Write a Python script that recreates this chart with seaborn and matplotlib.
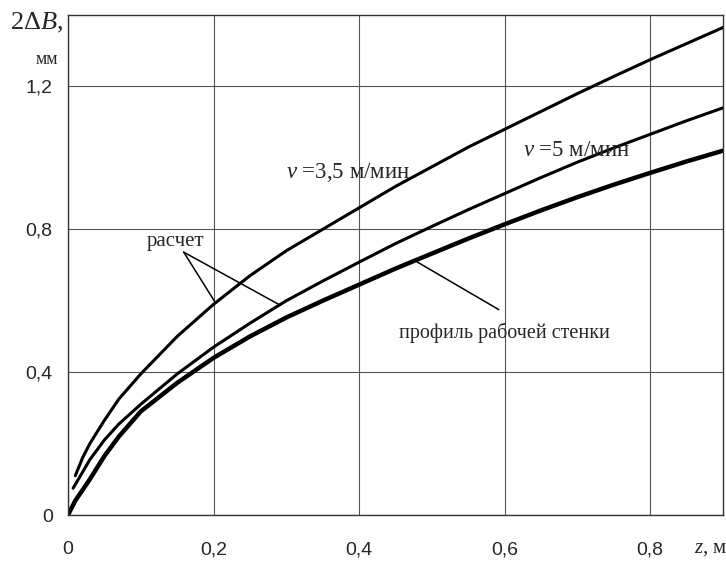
import numpy as np
import pandas as pd
import matplotlib
matplotlib.use("Agg")
import matplotlib.pyplot as plt
import seaborn as sns

# values (z in m, 2dB in mm)
z_v35 = [0.01, 0.02, 0.03, 0.05, 0.07, 0.1, 0.15, 0.2, 0.25, 0.3, 0.35, 0.4, 0.45,
         0.5, 0.55, 0.6, 0.65, 0.7, 0.75, 0.8, 0.85, 0.9]
db_v35 = [0.11, 0.16, 0.20, 0.265, 0.325, 0.395, 0.50, 0.59, 0.67, 0.74, 0.80, 0.86, 0.92,
          0.975, 1.03, 1.08, 1.13, 1.18, 1.228, 1.275, 1.32, 1.365]

z_v5 = [0.007, 0.02, 0.03, 0.05, 0.07, 0.1, 0.15, 0.2, 0.25, 0.3, 0.35, 0.4, 0.45,
        0.5, 0.55, 0.6, 0.65, 0.7, 0.75, 0.8, 0.85, 0.9]
db_v5 = [0.075, 0.12, 0.155, 0.21, 0.255, 0.31, 0.395, 0.47, 0.537, 0.60, 0.655, 0.708, 0.76,
         0.808, 0.855, 0.90, 0.945, 0.988, 1.028, 1.066, 1.104, 1.14]

z_prof = [0.0, 0.01, 0.02, 0.03, 0.05, 0.07, 0.1, 0.15, 0.2, 0.25, 0.3, 0.35, 0.4, 0.45,
          0.5, 0.55, 0.6, 0.65, 0.7, 0.75, 0.8, 0.85, 0.9]
db_prof = [0.0, 0.04, 0.07, 0.10, 0.165, 0.22, 0.29, 0.37, 0.44, 0.50, 0.553, 0.60, 0.645, 0.69,
           0.732, 0.774, 0.814, 0.853, 0.89, 0.925, 0.958, 0.99, 1.02]

x_ticks = [0, 0.2, 0.4, 0.6, 0.8]
x_labels = ["0", "0,2", "0,4", "0,6", "0,8"]
y_ticks = [0, 0.4, 0.8, 1.2]
y_labels = ["0", "0,4", "0,8", "1,2"]

sns.set_style("white")
plt.rcParams["font.family"] = ["Liberation Serif", "DejaVu Serif"]
plt.rcParams["mathtext.fontset"] = "custom"
plt.rcParams["mathtext.rm"] = "Liberation Serif"
plt.rcParams["mathtext.it"] = "Liberation Serif:italic"

fig = plt.figure(figsize=(7.26, 5.61), dpi=100)
ax = fig.add_axes([68 / 726, 46 / 561, 655 / 726, 500 / 561])

sns.lineplot(x=z_v35, y=db_v35, ax=ax, color="black", lw=2.2, estimator=None, sort=False)
sns.lineplot(x=z_v5, y=db_v5, ax=ax, color="black", lw=2.2, estimator=None, sort=False)
sns.lineplot(x=z_prof, y=db_prof, ax=ax, color="black", lw=3.2, estimator=None, sort=False)

ax.set_xlim(0, 0.9)
ax.set_ylim(0, 1.4)
ax.set_xticks(x_ticks)
ax.set_xticklabels(x_labels, family="Liberation Sans", fontsize=14)
ax.set_yticks(y_ticks)
ax.set_yticklabels(y_labels, family="Liberation Sans", fontsize=14)
ax.tick_params(direction="out", length=5, width=1, color="black", pad=6)
ax.tick_params(axis="x", pad=14)
ax.grid(True, color="#555555", lw=0.8)
for s in ax.spines.values():
    s.set_color("#333333")
    s.set_linewidth(1.0)

# axis captions
fig.text(10 / 726, 1 - 23 / 561, "2Δ$B$,", fontsize=19, va="center", ha="left")
fig.text(36 / 726, 1 - 59 / 561, "мм", fontsize=13, va="center", ha="left")
ax.text(0.86, -0.067, "$z$, м", transform=ax.get_xaxis_transform(),
        fontsize=15, va="center", ha="left")

# curve labels
ax.text(0.30, 0.96, "$v$ =3,5 м/мин", fontsize=16.5, va="center", ha="left")
ax.text(0.625, 1.02, "$v$ =5 м/мин", fontsize=16.5, va="center", ha="left")
ax.text(0.108, 0.765, "расчет", fontsize=15, va="center", ha="left")
ax.text(0.455, 0.51, "профиль рабочей стенки", fontsize=14.5, va="center", ha="left")

# leader lines
ax.plot([0.159, 0.203], [0.736, 0.593], color="black", lw=1.1)
ax.plot([0.159, 0.292], [0.736, 0.587], color="black", lw=1.1)
ax.plot([0.476, 0.592], [0.713, 0.575], color="black", lw=1.1)

fig.savefig("out.png", dpi=100)
